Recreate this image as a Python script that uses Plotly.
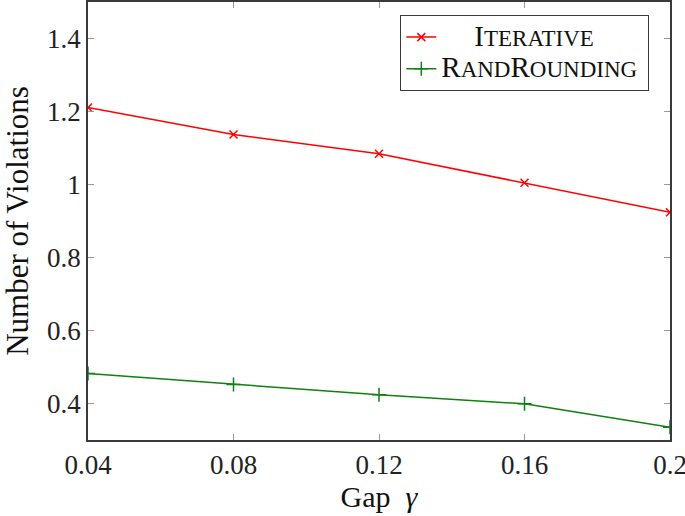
import plotly.graph_objects as go

gap = [0.04, 0.08, 0.12, 0.16, 0.2]
iterative = [1.211, 1.137, 1.084, 1.005, 0.924]
rand_rounding = [0.482, 0.452, 0.424, 0.399, 0.335]
x_ticks = [0.04, 0.08, 0.12, 0.16, 0.2]
y_ticks = [0.4, 0.6, 0.8, 1.0, 1.2, 1.4]

FONT = "Liberation Serif, DejaVu Serif, serif"

def smallcaps(parts):
    out = ""
    for big, small in parts:
        out += f"<span style='font-size:29px'>{big}</span><span style='font-size:23px'>{small}</span>"
    return out

name_iter = "\u00a0" * 6 + smallcaps([("I", "TERATIVE")]) + "\u00a0" * 7
name_rand = smallcaps([("R", "AND"), ("R", "OUNDING")]) + "\u00a0"

fig = go.Figure()
fig.add_trace(go.Scatter(
    x=gap, y=iterative, name=name_iter, mode="lines+markers",
    line=dict(color="#ff0000", width=1.5),
    marker=dict(symbol="x-thin-open", size=8, color="#ff0000",
                line=dict(color="#ff0000", width=1.5)),
))
fig.add_trace(go.Scatter(
    x=gap, y=rand_rounding, name=name_rand, mode="lines+markers",
    line=dict(color="#108010", width=1.5),
    marker=dict(symbol="cross-thin-open", size=10, color="#108010",
                line=dict(color="#108010", width=1.5)),
))

axis_common = dict(
    showgrid=False, zeroline=False, showline=True, linecolor="#3a3a3a", linewidth=1.5,
    mirror="ticks", ticks="inside", ticklen=6, tickcolor="#999999", tickwidth=1.2,
    tickfont=dict(family=FONT, size=27, color="#222222"), automargin=False,
    ticklabeloverflow="allow",
)

fig.update_layout(
    width=685, height=516,
    margin=dict(l=88, r=15, t=2, b=76),
    plot_bgcolor="white", paper_bgcolor="white",
    font=dict(family=FONT, color="#111111"),
    xaxis=dict(range=[0.04, 0.2], tickvals=x_ticks, ticktext=[str(v) for v in x_ticks],
               title=dict(text="Gap\u2002<i>γ</i>", font=dict(family=FONT, size=30), standoff=6),
               **axis_common),
    yaxis=dict(range=[0.3, 1.5], tickvals=y_ticks,
               ticktext=["0.4", "0.6", "0.8", "1", "1.2", "1.4"],
               title=dict(text="Number of Violations", font=dict(family=FONT, size=31), standoff=10),
               **axis_common),
    legend=dict(x=(649 - 88) / 582, xanchor="right", y=1 - 13 / 438, yanchor="top",
                bgcolor="white", bordercolor="#3a3a3a", borderwidth=1.3,
                font=dict(family=FONT, size=22, color="#111111"),
                tracegroupgap=0),
    showlegend=True,
)

fig.write_html("out.html", config={"displayModeBar": False},
               post_script="document.body.style.margin='0';")
